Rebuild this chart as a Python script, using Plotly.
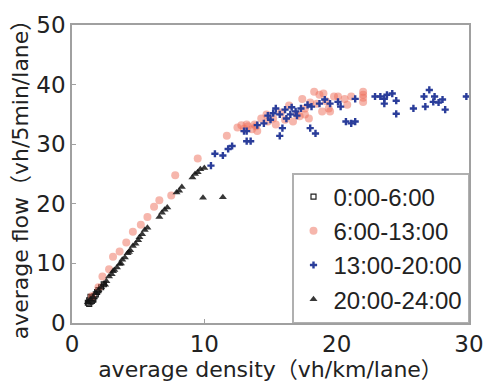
import plotly.graph_objects as go

sq_x = [1.2,1.3,1.4,1.5,1.6,1.3,1.5,1.7,1.8,1.4,1.9,2.0,1.6,2.2,2.4]
sq_y = [3.4,3.8,3.6,4.2,4.0,3.2,3.7,4.5,4.8,4.4,5.2,5.5,3.9,6.0,6.5]

tri_x = [1.2,1.4,1.6,1.8,2.0,2.2,2.4,2.6,2.8,3.0,3.2,3.4,3.6,3.8,4.0,4.2,4.4,4.6,4.8,5.0,5.3,5.5,5.7,6.6,6.8,7.0,7.2,7.9,8.1,8.3,9.1,9.3,9.5,9.7,10.0,9.9,11.4,2.5,3.1,3.7,4.3,5.1]
tri_y = [3.5,4.0,4.3,5.0,5.5,6.0,6.6,7.0,7.8,8.2,8.9,9.3,9.9,10.6,11.0,11.7,12.2,12.9,13.3,13.9,14.9,15.6,16.0,17.8,18.5,19.0,19.4,21.9,22.2,22.8,24.4,25.0,25.3,25.8,26.0,21.0,21.1,6.4,8.7,10.0,11.9,14.4]

ora_x = [1.5,2.0,2.3,2.8,3.1,3.6,4.1,4.6,5.2,5.7,6.2,6.6,7.5,7.8,9.5,11.7,12.5,12.8,13.0,13.3,13.6,13.8,13.2,13.9,14.0,14.3,14.7,15.2,15.4,16.1,16.7,17.0,17.4,17.6,17.6,17.9,18.3,18.7,18.9,19.0,19.4,19.5,19.8,20.1,20.6,20.8,21.1,22.0,22.0,22.0,22.0,14.8,15.8,16.4,17.2,18.0,18.5,19.2]
ora_y = [4.5,6.0,7.8,9.0,11.1,12.0,13.5,15.3,16.5,17.8,19.5,20.6,21.4,24.8,27.6,31.4,32.8,33.2,32.6,33.0,32.5,33.3,33.3,33.0,32.2,34.3,35.0,34.3,33.3,34.1,33.8,35.0,37.6,35.0,36.0,34.3,38.8,38.3,35.5,38.5,36.0,35.5,38.0,38.0,37.6,36.6,38.0,38.3,37.1,37.8,38.8,33.8,35.3,36.5,34.7,37.0,36.8,37.2]

blu_x = [10.5,10.8,11.4,11.8,12.1,13.0,13.2,13.5,13.2,14.5,15.0,15.4,15.7,16.1,16.2,16.5,15.7,15.9,16.9,17.3,17.8,18.1,18.0,18.4,18.7,19.1,19.5,20.1,20.3,20.7,21.1,21.4,21.4,22.9,23.3,23.6,23.8,24.2,23.6,24.5,24.5,25.8,26.7,26.6,27.0,27.4,27.3,27.7,28.0,28.2,29.8,14.0,14.8,15.2,16.6,17.0]
blu_y = [26.4,28.4,28.1,29.2,29.7,32.2,30.5,30.5,32.2,33.5,34.1,36.0,35.0,35.8,34.3,35.0,31.4,32.7,35.5,36.0,36.6,36.3,32.7,31.8,36.8,37.5,36.8,37.1,36.3,33.8,33.5,33.8,37.6,38.0,38.0,37.6,38.3,38.5,36.8,37.3,35.1,36.0,36.3,38.0,39.1,38.0,37.1,37.0,37.5,35.8,38.0,33.2,34.8,35.2,36.2,34.8]

names = ["0:00-6:00", "6:00-13:00", "13:00-20:00", "20:00-24:00"]

TFONT = "DejaVu Sans, Noto Sans CJK JP"
LFONT = "Liberation Sans, Arial"
fig = go.Figure()
fig.add_trace(go.Scatter(x=sq_x, y=sq_y, mode="markers", name=names[0],
    marker=dict(symbol="square-open", size=5, color="#202020", line=dict(width=1.2))))
fig.add_trace(go.Scatter(x=ora_x, y=ora_y, mode="markers", name=names[1],
    marker=dict(symbol="circle", size=8, color="rgba(238,110,90,0.5)")))
fig.add_trace(go.Scatter(x=blu_x, y=blu_y, mode="markers", name=names[2],
    marker=dict(symbol="cross", size=6, color="#2a3d9a")))
fig.add_trace(go.Scatter(x=tri_x, y=tri_y, mode="markers", name=names[3],
    marker=dict(symbol="triangle-up", size=7, color="rgba(20,20,20,0.85)")))

axis_common = dict(showgrid=False, zeroline=False, showline=True, mirror=True,
                   linecolor="#a0a0a0", linewidth=1.5, ticks="inside", ticklen=4,
                   tickcolor="#a0a0a0", dtick=10, ticklabeloverflow="allow",
                   tickfont=dict(family=TFONT, size=23, color="#222"))
fig.update_xaxes(range=[0, 30], **axis_common,
                 title=dict(text="average density（vh/km/lane）", font=dict(family=TFONT, size=22, color="#222"), standoff=2))
fig.update_yaxes(range=[0, 50], **axis_common,
                 title=dict(text="average flow（vh/5min/lane）", font=dict(family=TFONT, size=22, color="#222"), standoff=2))

fig.update_layout(width=496, height=387, margin=dict(l=72, r=14, t=22, b=62),
    plot_bgcolor="white", paper_bgcolor="white",
    legend=dict(x=1, y=0, xanchor="right", yanchor="bottom", bgcolor="white",
                bordercolor="#b0b0b0", borderwidth=1.5,
                font=dict(family=LFONT, size=24, color="#222"),
                itemwidth=30, tracegroupgap=0),
    showlegend=True)

fig.write_html("out.html")
